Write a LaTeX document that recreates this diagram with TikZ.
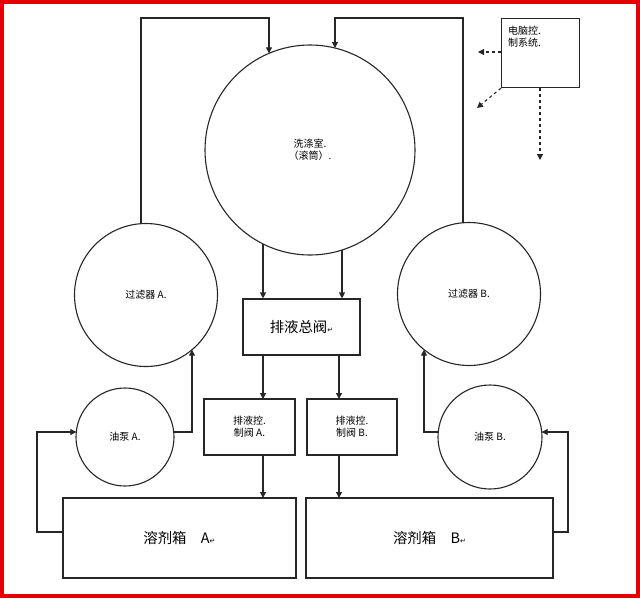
\documentclass[tikz,border=0pt]{standalone}
\usepackage{fontspec}
\setmainfont{Liberation Serif}
\newfontfamily\cjk{Noto Sans CJK SC}
\newfontfamily\dv{DejaVu Sans}
\newcommand{\rmk}{{\dv\scriptsize ↵}}
\usetikzlibrary{arrows.meta,calc}
\begin{document}
\begin{tikzpicture}[x=1pt,y=-1pt,
  ln/.style={draw=black!85,line width=1.1pt},
  arr/.style={ln,-{Triangle[length=6pt,width=6pt]}},
  darr/.style={ln,dashed,-{Triangle[length=6pt,width=6pt]}},
  circ/.style={circle,draw=black!85,line width=1.1pt,inner sep=0pt,font=\cjk},
  bx/.style={draw=black!85,line width=1.1pt,inner sep=0pt,align=center}]
\useasboundingbox (0,0) rectangle (640,598);
\draw[red!90!black,line width=4pt] (2,2) rectangle (638,596);
\node[circ,minimum size=210pt,align=center] (wash) at (310,150) {洗涤室.\\（滚筒）.};
\node[circ,minimum size=143pt] (fa) at (146,295) {过滤器 A.};
\node[circ,minimum size=143pt] (fb) at (469,294) {过滤器 B.};
\node[circ,minimum size=98pt] (pa) at (125,437) {油泵 A.};
\node[circ,minimum size=104pt] (pb) at (490,437) {油泵 B.};
\node[bx,minimum width=117pt,minimum height=56pt,font=\cjk\Large] (main) at (301.5,327) {排液总阀\rmk};
\node[bx,minimum width=91pt,minimum height=56pt,font=\cjk] (va) at (249.5,427) {排液控.\\制阀 A.};
\node[bx,minimum width=90pt,minimum height=56pt,font=\cjk] (vb) at (352,427) {排液控.\\制阀 B.};
\node[bx,minimum width=233pt,minimum height=80pt,font=\cjk\Large] (sa) at (179.5,538) {溶剂箱\quad A\rmk};
\node[bx,minimum width=247pt,minimum height=80pt,font=\cjk\Large] (sb) at (429.5,538) {溶剂箱\quad B\rmk};
\node[bx,minimum width=78pt,minimum height=69pt,anchor=north west] (pc) at (501,18) {};
\node[font=\cjk,align=left,anchor=north west,inner sep=0pt] (pct) at (508,26) {电脑控.\\制系统.};
% coordinates on borders
\coordinate (w1) at ($(wash.center)+(-41,-96.7)$);
\coordinate (w2) at ($(wash.center)+(25,-102)$);
\coordinate (w3) at ($(wash.center)+(-47,93.9)$);
\coordinate (w4) at ($(wash.center)+(32,100)$);
\coordinate (fa1) at ($(fa.center)+(-5,-71.3)$);
\coordinate (fb1) at ($(fb.center)+(-6,-71.2)$);
\coordinate (fa2) at ($(fa.center)+(46,54.7)$);
\coordinate (fb2) at ($(fb.center)+(-45,55.6)$);
\coordinate (pa1) at ($(pa.center)+(-48.7,-5)$);
\coordinate (pa2) at ($(pa.center)+(48.7,-5)$);
\coordinate (pb1) at ($(pb.center)+(-51.7,-5)$);
\coordinate (pb2) at ($(pb.center)+(51.7,-5)$);
% top loops
\draw[arr] (fa1) -- (141,18) -| (w1);
\draw[arr] (fb1) -- (463,18) -| (w2);
% wash to main valve
\draw[arr] (w3) -- (w3 |- main.north);
\draw[arr] (w4) -- (w4 |- main.north);
\draw[arr] (main.south -| 263,0) -- (263,399);
\draw[arr] (main.south -| 339,0) -- (339,399);
\draw[arr] (va.south -| 263,0) -- (263,498);
\draw[arr] (vb.south -| 339,0) -- (339,498);
% pumps
\draw[arr] (sa.west |- 0,532) -- (37,532) |- (pa1);
\draw[arr] (pa2) -- (192,432) -- (fa2);
\draw[arr] (sb.east |- 0,532) -- (568,532) |- (pb2);
\draw[arr] (pb1) -- (424,432) -- (fb2);
% computer control dashed
\draw[darr] (pc.west |- 0,52) -- (478,52);
\draw[darr] (pc.south west) -- (477,108);
\draw[darr] (pc.south -| 540,0) -- (540,160);
\end{tikzpicture}
\end{document}
